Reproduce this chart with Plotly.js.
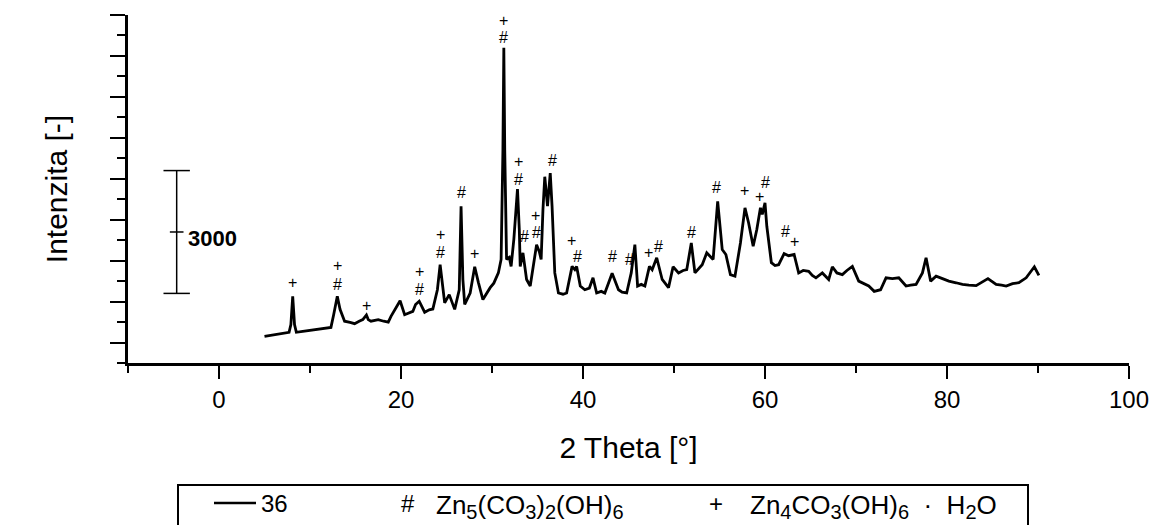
<!DOCTYPE html>
<html>
<head>
<meta charset="utf-8">
<script src="https://cdn.plot.ly/plotly-3.0.1.min.js"></script>
<style>html,body{margin:0;padding:0;background:#fff;}#chart{width:1157px;height:525px;}</style>
</head>
<body>
<div id="chart"></div>
<script>
// XRD pattern of sample "36"
const twoTheta = [5.0,5.7,6.4,7.1,7.7,7.9,8.1,8.3,8.5,9.2,10.3,11.2,12.3,12.6,13.0,13.3,13.8,14.4,14.9,15.4,
  15.8,16.2,16.4,16.7,17.1,17.5,18.1,18.6,18.9,19.9,20.4,20.9,21.3,21.6,22.0,22.6,23.1,23.5,24.0,24.3,
  24.6,24.8,25.3,25.9,26.4,26.6,26.8,27.0,27.6,28.1,28.5,29.0,29.8,30.2,30.7,31.0,31.2,31.3,31.4,31.6,
  31.9,32.1,32.4,32.8,33.0,33.1,33.4,33.8,34.2,34.5,34.9,35.2,35.4,35.6,35.8,36.1,36.4,36.6,36.9,37.3,
  37.8,38.2,38.5,38.8,39.1,39.3,39.7,40.2,40.7,41.1,41.5,42.0,42.4,43.2,43.9,44.3,44.8,45.3,45.7,46.0,
  46.4,46.8,47.3,47.6,48.1,48.7,49.4,49.9,50.5,51.0,51.4,51.9,52.3,53.1,53.6,54.3,54.8,55.3,55.7,56.2,
  56.7,57.3,57.8,58.2,58.7,59.1,59.5,59.7,60.0,60.2,60.7,61.1,61.5,62.1,62.6,63.2,63.7,64.2,64.8,65.2,
  65.6,66.3,67.0,67.4,67.9,68.5,69.0,69.6,70.3,70.8,71.4,72.0,72.7,73.3,74.0,74.7,75.5,76.0,76.6,77.3,
  77.7,78.2,78.8,79.5,80.2,81.0,81.7,82.4,83.2,84.5,85.4,86.0,86.5,87.2,87.9,88.7,89.6,90.1];
const intensity = [150,180,210,230,250,440,1130,440,250,270,300,330,370,680,1130,810,520,490,460,520,
  560,670,560,520,540,560,520,500,640,1020,680,720,760,930,1010,740,800,820,1290,1900,
  1420,970,1170,810,1290,3330,1540,930,1210,1850,1470,1050,1340,1450,1700,2030,4710,7200,4710,2030,
  2080,1860,2520,3750,2760,1860,2190,1540,1380,1780,2390,2220,2030,3250,4050,3330,4140,3330,1700,1210,
  1180,1210,1540,1860,1780,1860,1380,1290,1330,1580,1210,1250,1210,1690,1290,1230,1210,1700,2390,1380,
  1420,1380,1860,1780,2070,1540,1340,1850,1700,1760,1780,2430,1700,1900,2190,2030,3450,2270,2150,1660,
  1620,2430,3290,2920,2350,2760,3290,3130,3410,2840,1950,1880,1900,2170,2120,2150,1700,1760,1740,1640,
  1580,1700,1540,1850,1700,1660,1760,1860,1500,1440,1380,1250,1290,1580,1560,1580,1380,1400,1420,1700,
  2070,1500,1620,1560,1500,1460,1420,1400,1390,1560,1420,1400,1380,1440,1460,1580,1850,1640];

// phase markers: # = Zn5(CO3)2(OH)6, + = Zn4CO3(OH)6·H2O
const labelTheta = [8.1,13.0,13.0,16.2,22.0,22.0,24.3,24.3,26.6,28.1,31.3,31.3,32.9,32.9,33.6,34.8,34.9,36.6,38.7,39.4,
  43.2,45.1,47.2,48.3,51.9,54.7,57.8,59.4,60.1,62.2,63.2];
const labelLevel = [1460,1890,1420,900,1740,1290,2640,2190,3660,2170,7870,7440,4430,3980,2600,3100,2680,4450,2500,2110,
  2110,2040,2190,2350,2690,3780,3710,3570,3920,2720,2460];
const labelSymbol = ['+','+','#','+','+','#','+','#','#','+','+','#','+','#','#','+','#','#','+','#',
  '#','#','+','#','#','#','+','+','#','#','+'];

const seriesName = '36';
const SUB = s => '<sub><span style="font-size:20px">' + s + '</span></sub>';
const phaseNames = ['Zn' + SUB('5') + '(CO' + SUB('3') + ')' + SUB('2') + '(OH)' + SUB('6'),
                    'Zn' + SUB('4') + 'CO' + SUB('3') + '(OH)' + SUB('6') + '\u00a0\u00a0·\u00a0\u00a0H' + SUB('2') + 'O'];
const phaseSymbols = ['#', '+'];
const scaleSpan = 3000;

const FONT = 'Liberation Sans, Arial, Helvetica, sans-serif';

// pixel helpers for paper coords of the plot area
const L = 128, R = 28, T = 15, B = 162, W = 1157, H = 525;
const pw = W - L - R, ph = H - T - B;
const px = v => (v - L) / pw;
const py = v => (H - B - v) / ph;

const annotations = labelTheta.map((x, i) => ({
  x: x, y: labelLevel[i], xref: 'x', yref: 'y', text: labelSymbol[i], showarrow: false,
  font: {family: FONT, size: 16, color: '#000'}, xanchor: 'center', yanchor: 'middle'
}));

// scale bar
const sbX = -4.65, sbLow = 1200, sbHigh = sbLow + scaleSpan, sbMid = (sbLow + sbHigh) / 2;
const shapes = [
  {type: 'line', xref: 'x', yref: 'y', x0: sbX, x1: sbX, y0: sbLow, y1: sbHigh, line: {color: '#000', width: 1.5}},
  {type: 'line', xref: 'x', yref: 'y', x0: -6.1, x1: -3.2, y0: sbLow, y1: sbLow, line: {color: '#000', width: 1.5}},
  {type: 'line', xref: 'x', yref: 'y', x0: -6.1, x1: -3.2, y0: sbHigh, y1: sbHigh, line: {color: '#000', width: 1.5}},
  {type: 'line', xref: 'x', yref: 'y', x0: -5.4, x1: -3.9, y0: sbMid, y1: sbMid, line: {color: '#000', width: 1.5}}
];
annotations.push({x: -3.6, y: sbMid - 170, xref: 'x', yref: 'y', text: '<b>' + scaleSpan + '</b>', showarrow: false,
  xanchor: 'left', yanchor: 'middle', font: {family: FONT, size: 22, color: '#000'}});

// legend box (manual)
shapes.push({type: 'rect', xref: 'paper', yref: 'paper', x0: px(178), x1: px(1028), y0: py(540), y1: py(485),
  line: {color: '#000', width: 2}, fillcolor: 'rgba(0,0,0,0)'});
shapes.push({type: 'line', xref: 'paper', yref: 'paper', x0: px(214), x1: px(256), y0: py(503), y1: py(503),
  line: {color: '#000', width: 2.5}});
const legFont = {family: FONT, size: 24, color: '#000'};
const formFont = {family: FONT, size: 26, color: '#000'};
annotations.push({xref: 'paper', yref: 'paper', x: px(259), y: py(503), text: seriesName, showarrow: false,
  xanchor: 'left', yanchor: 'middle', font: legFont});
annotations.push({xref: 'paper', yref: 'paper', x: px(408), y: py(503), text: phaseSymbols[0], showarrow: false,
  xanchor: 'center', yanchor: 'middle', font: legFont});
annotations.push({xref: 'paper', yref: 'paper', x: px(434), y: py(506), text: phaseNames[0], showarrow: false,
  xanchor: 'left', yanchor: 'middle', font: formFont});
annotations.push({xref: 'paper', yref: 'paper', x: px(716), y: py(503), text: phaseSymbols[1], showarrow: false,
  xanchor: 'center', yanchor: 'middle', font: legFont});
annotations.push({xref: 'paper', yref: 'paper', x: px(748), y: py(506), text: phaseNames[1], showarrow: false,
  xanchor: 'left', yanchor: 'middle', font: formFont});

const trace = {
  x: twoTheta, y: intensity, type: 'scatter', mode: 'lines', name: seriesName,
  line: {color: '#000', width: 2.8}, showlegend: false
};

const layout = {
  width: W, height: H,
  margin: {l: L, r: R, t: T, b: B, pad: 0},
  paper_bgcolor: '#fff', plot_bgcolor: '#fff',
  showlegend: false,
  font: {family: FONT, color: '#000'},
  xaxis: {
    range: [-10, 100], showgrid: false, zeroline: false,
    showline: true, linecolor: '#000', linewidth: 3,
    ticks: 'outside', ticklen: 13, tickwidth: 2, tickcolor: '#000',
    tick0: 0, dtick: 20,
    minor: {ticks: 'outside', ticklen: 7, tickwidth: 2, tickcolor: '#000', dtick: 10, tick0: 0},
    tickfont: {family: FONT, size: 24, color: '#000'},
    title: {text: '2 Theta [°]', font: {family: FONT, size: 30, color: '#000'}, standoff: 26}
  },
  yaxis: {
    range: [-500, 8000], showgrid: false, zeroline: false,
    showline: true, linecolor: '#000', linewidth: 3,
    ticks: 'outside', ticklen: 15, tickwidth: 2, tickcolor: '#000',
    tick0: 0, dtick: 1000, showticklabels: false,
    minor: {ticks: 'outside', ticklen: 8, tickwidth: 2, tickcolor: '#000', dtick: 500, tick0: 0},
    title: {text: 'Intenzita [-]', font: {family: FONT, size: 30, color: '#000'}, standoff: 34}
  },
  annotations: annotations,
  shapes: shapes
};

Plotly.newPlot('chart', [trace], layout, {staticPlot: true, displayModeBar: false});
</script>
</body>
</html>
